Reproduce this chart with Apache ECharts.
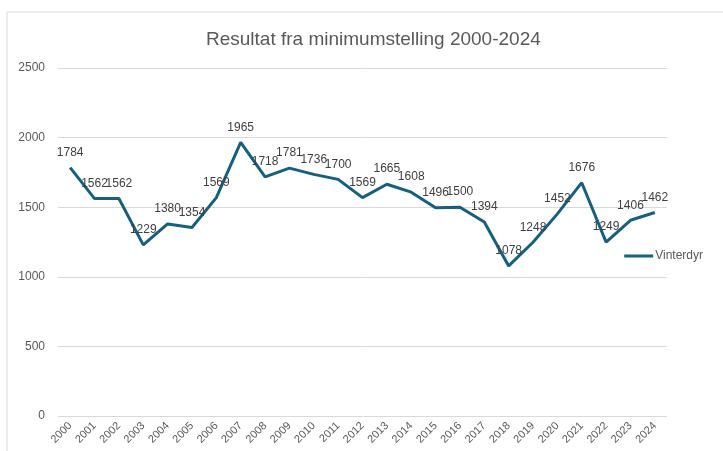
<!DOCTYPE html>
<html>
<head>
    <meta charset="utf-8">
    <script src="https://cdn.jsdelivr.net/npm/echarts@6/dist/echarts.min.js"></script>
</head>
<body style="margin:0;background:#fff;">
    <div id="main" style="width:723px;height:451px;"></div>
    <script type="text/javascript">
        // data
        var years = ['2000', '2001', '2002', '2003', '2004', '2005', '2006', '2007', '2008', '2009',
            '2010', '2011', '2012', '2013', '2014', '2015', '2016', '2017', '2018', '2019',
            '2020', '2021', '2022', '2023', '2024'];
        var vinterdyr = [1784, 1562, 1562, 1229, 1380, 1354, 1569, 1965, 1718, 1781,
            1736, 1700, 1569, 1665, 1608, 1496, 1500, 1394, 1078, 1248,
            1452, 1676, 1249, 1406, 1462];
        var seriesName = 'Vinterdyr';
        var titleText = 'Resultat fra minimumstelling 2000-2024';

        var myChart = echarts.init(document.getElementById('main'));

        var option = {
            backgroundColor: '#fff',
            animation: false,
            title: {
                text: titleText,
                left: 201,
                top: 25,
                textStyle: {
                    fontFamily: '"Liberation Sans", Arial, sans-serif',
                    fontSize: 19,
                    fontWeight: 'normal',
                    color: '#595959'
                }
            },
            graphic: [{
                type: 'rect',
                shape: { x: 7, y: 12, width: 800, height: 500 },
                style: { fill: 'none', stroke: '#d9d9d9', lineWidth: 1 },
                silent: true
            }],
            grid: {
                left: 58,
                right: 56,
                top: 68,
                bottom: 35
            },
            legend: {
                data: [seriesName],
                orient: 'vertical',
                right: 15,
                top: 245,
                icon: 'rect',
                itemWidth: 29,
                itemHeight: 3,
                textStyle: {
                    fontFamily: '"Liberation Sans", Arial, sans-serif',
                    fontSize: 12,
                    color: '#595959',
                    padding: [0, 0, 0, -3]
                }
            },
            xAxis: {
                type: 'category',
                data: years,
                boundaryGap: true,
                axisLine: { show: false },
                axisTick: { show: false },
                axisLabel: {
                    rotate: 45,
                    interval: 0,
                    margin: 8,
                    fontFamily: '"Liberation Sans", Arial, sans-serif',
                    fontSize: 11,
                    color: '#595959'
                }
            },
            yAxis: {
                type: 'value',
                min: 0,
                max: 2500,
                interval: 500,
                axisLine: { show: false },
                axisTick: { show: false },
                splitLine: { lineStyle: { color: '#d9d9d9', width: 1 } },
                axisLabel: {
                    margin: 13,
                    formatter: function (v) { return String(v); },
                    fontFamily: '"Liberation Sans", Arial, sans-serif',
                    fontSize: 12,
                    color: '#595959'
                }
            },
            series: [{
                name: seriesName,
                type: 'line',
                data: vinterdyr,
                symbol: 'circle',
                symbolSize: 0.1,
                showSymbol: true,
                lineStyle: { color: '#156082', width: 3 },
                itemStyle: { color: '#156082' },
                label: {
                    show: true,
                    position: 'top',
                    distance: 9,
                    fontFamily: '"Liberation Sans", Arial, sans-serif',
                    fontSize: 12,
                    color: '#404040'
                }
            }]
        };
        myChart.setOption(option);
    </script>
</body>
</html>
